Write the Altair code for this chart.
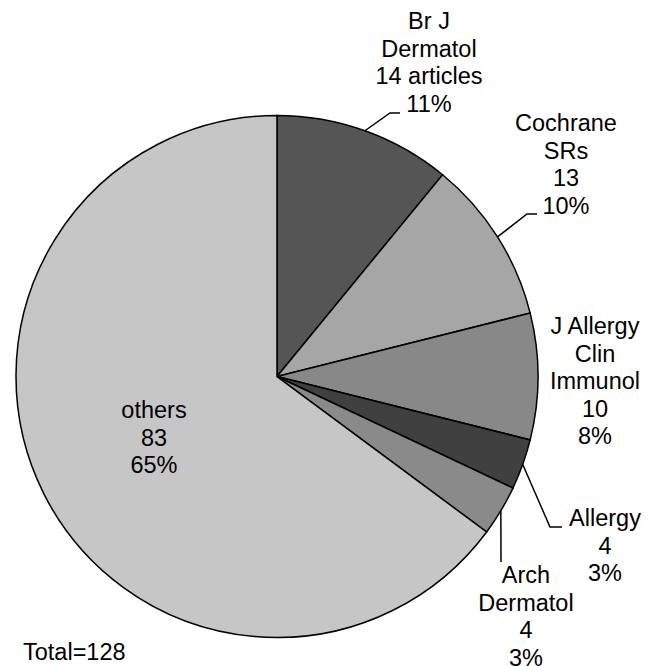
import math
import altair as alt
import pandas as pd

# ---- data ----
journals = ["Br J Dermatol", "Cochrane SRs", "J Allergy Clin Immunol", "Allergy", "Arch Dermatol", "others"]
counts = [14, 13, 10, 4, 4, 83]
label_names = [["Br J", "Dermatol"], ["Cochrane", "SRs"], ["J Allergy", "Clin", "Immunol"],
               ["Allergy"], ["Arch", "Dermatol"], ["others"]]
count_suffix = [" articles", "", "", "", "", ""]
slice_colors = ["#555555", "#a6a6a6", "#888888", "#404040", "#8a8a8a", "#c6c6c6"]
total_label = "Total=128"

# ---- layout (view pixels) ----
CX, CY, R = 269, 368.5, 261
LH = 27.5
FONT = "Liberation Sans"
FS = 23.5
label_anchor = [(421, 14), (558, 116), (587, 319), (597, 511), (518, 568), (146, 403)]
leader_elbows = [[(382, 105), (392, 105)], [(519, 206), (529, 206)], [],
                 [(542, 519), (554, 519)], [(493, 554)], []]

total = sum(counts)
pie_df = pd.DataFrame({"journal": journals, "count": counts, "idx": list(range(len(journals)))})

# label rows
rows = []
for i, (names, c, suf) in enumerate(zip(label_names, counts, count_suffix)):
    lines = names + [f"{c}{suf}", f"{round(100 * c / total)}%"]
    ax, ay = label_anchor[i]
    for k, t in enumerate(lines):
        rows.append({"t": t, "px": ax, "py": ay + k * LH})
text_df = pd.DataFrame(rows)

# leader rows (start on the arc at the slice mid angle)
lrows = []
cum = 0
for i, c in enumerate(counts):
    mid = (cum + c / 2) / total * 2 * math.pi
    cum += c
    if not leader_elbows[i]:
        continue
    pts = [(CX + R * math.sin(mid), CY - R * math.cos(mid))] + leader_elbows[i]
    for k, (x, y) in enumerate(pts):
        lrows.append({"g": journals[i], "k": k, "px": x, "py": y})
lead_df = pd.DataFrame(lrows)

pie = alt.Chart(pie_df).mark_arc(radius=R, stroke="black", strokeWidth=1.5).encode(
    theta=alt.Theta("count:Q", stack=True),
    order=alt.Order("idx:Q"),
    color=alt.Color("journal:N", scale=alt.Scale(domain=journals, range=slice_colors), legend=None),
    x=alt.value(CX),
    y=alt.value(CY),
)

leaders = alt.Chart(lead_df).mark_line(color="black", strokeWidth=1.5).encode(
    x=alt.X("px:Q", scale=None, axis=None),
    y=alt.Y("py:Q", scale=None, axis=None),
    detail="g:N",
    order="k:Q",
)

labels = alt.Chart(text_df).mark_text(font=FONT, fontSize=FS, align="center", baseline="middle",
                                      color="black").encode(
    x=alt.X("px:Q", scale=None, axis=None),
    y=alt.Y("py:Q", scale=None, axis=None),
    text="t:N",
)

total_text = alt.Chart(pd.DataFrame({"t": [total_label]})).mark_text(
    font=FONT, fontSize=FS, align="left", baseline="middle", color="black").encode(
    x=alt.value(15), y=alt.value(645), text="t:N")

chart = alt.layer(pie, leaders, labels, total_text).properties(
    width=639, height=658, autosize="none", padding=0
).configure_view(stroke=None)

chart.save("out.html", embed_options={"renderer": "svg", "actions": False})
